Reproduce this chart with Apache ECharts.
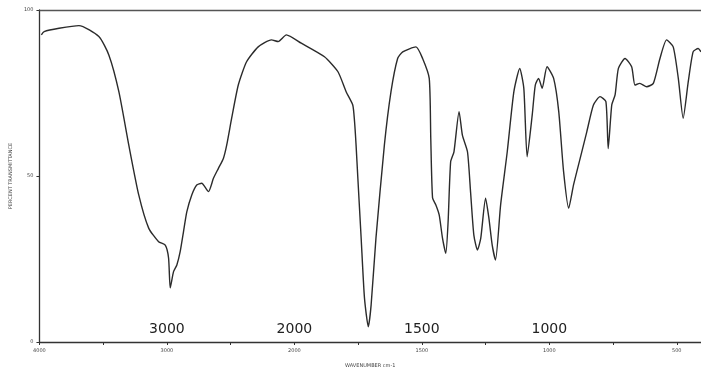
<!DOCTYPE html>
<html>
<head>
<meta charset="utf-8">
<script src="https://cdn.jsdelivr.net/npm/echarts@6/dist/echarts.min.js"></script>
<style>
  html, body { margin: 0; padding: 0; background: #fff; }
  #chart { width: 701px; height: 373px; }
</style>
</head>
<body>
<div id="chart"></div>
<script>
'use strict';
// IR spectrum, wavenumber (cm-1) vs transmittance (%)
const wavenumbers = [3985, 3963, 3846, 3690, 3534, 3455, 3377, 3299, 3221, 3143, 3065, 3013, 2987, 2974, 2948, 2922, 2896, 2870, 2844, 2805, 2766, 2727, 2674, 2635, 2596, 2557, 2531, 2492, 2440, 2375, 2284, 2180, 2127, 2063, 1973, 1882, 1829, 1797, 1771, 1764, 1758, 1751, 1738, 1725, 1710, 1699, 1680, 1647, 1621, 1595, 1575, 1523, 1497, 1471, 1465, 1458, 1445, 1432, 1419, 1406, 1397, 1387, 1374, 1354, 1341, 1321, 1309, 1296, 1282, 1269, 1250, 1237, 1224, 1211, 1191, 1165, 1139, 1116, 1100, 1087, 1067, 1055, 1042, 1028, 1009, 983, 963, 944, 924, 905, 879, 853, 827, 801, 778, 769, 755, 742, 729, 703, 677, 664, 645, 618, 592, 566, 540, 514, 494, 475, 455, 436, 416, 405];
const transmittance = [92.5, 93.5, 94.5, 95.3, 92.0, 86.4, 75.4, 59.3, 44.3, 34.3, 30.2, 29.2, 25.3, 16.3, 21.2, 23.2, 27.2, 33.2, 39.2, 44.3, 47.3, 47.8, 45.3, 49.3, 52.3, 55.3, 59.3, 67.4, 77.4, 84.4, 88.9, 91.0, 90.5, 92.5, 90.0, 85.9, 81.4, 75.4, 71.4, 66.4, 59.3, 49.3, 31.2, 13.2, 4.6, 11.1, 31.3, 59.3, 75.4, 85.4, 87.4, 88.9, 85.4, 79.4, 61.4, 43.4, 41.3, 38.3, 31.3, 26.7, 36.2, 54.3, 57.3, 69.4, 62.3, 57.3, 45.3, 32.2, 27.7, 31.2, 43.3, 37.3, 29.2, 24.7, 41.3, 57.3, 75.4, 82.4, 76.4, 55.8, 68.4, 77.4, 79.4, 76.4, 82.9, 79.4, 69.4, 51.3, 40.3, 47.3, 55.3, 63.3, 71.4, 73.9, 72.4, 58.3, 71.4, 74.4, 82.4, 85.4, 82.9, 77.4, 77.9, 76.9, 77.9, 85.4, 91.0, 88.9, 79.4, 67.4, 78.4, 87.4, 88.4, 87.4];

const smallTicks = [4000, 3000, 2000, 1500, 1000, 500];
const minorTicks = [4000, 3500, 3000, 2500, 2000, 1750, 1500, 1250, 1000, 750, 500];
const bigLabels = [3000, 2000, 1500, 1000];
const yTicks = [0, 50, 100];
const wnMin = 405, wnMax = 4000;

// the chart paper doubles its scale below 2000 cm-1
function toAxis(w) {
    return w >= 2000 ? w : 2000 - 2 * (2000 - w);
}
function fromAxis(u) {
    return u >= 2000 ? u : 2000 - (2000 - u) / 2;
}

let seriesData = wavenumbers.map(function (w, i) {
    return [toAxis(w), transmittance[i]];
});

let axisBase = {
    type: 'value',
    inverse: true,
    min: toAxis(wnMin),
    max: toAxis(wnMax),
    splitLine: {show: false}
};

let myChart = echarts.init(document.getElementById('chart'));
let option = {
    animation: false,
    backgroundColor: '#ffffff',
    grid: {left: 37, right: 0, top: 10, bottom: 31, containLabel: false},
    xAxis: [
        Object.assign({}, axisBase, {
            position: 'bottom',
            name: 'WAVENUMBER cm-1',
            nameLocation: 'middle',
            nameGap: 21,
            nameTextStyle: {fontSize: 5, color: '#444', fontFamily: 'DejaVu Sans'},
            axisLine: {show: true, onZero: false, lineStyle: {color: '#333', width: 1.3}},
            axisTick: {
                show: true, length: 3, inside: false,
                customValues: minorTicks.map(toAxis),
                lineStyle: {color: '#333'}
            },
            axisLabel: {
                show: true, fontSize: 5, color: '#444', margin: 6,
                fontFamily: 'DejaVu Sans',
                customValues: smallTicks.map(toAxis),
                formatter: function (v) { return String(Math.round(fromAxis(v))); }
            }
        }),
        Object.assign({}, axisBase, {
            position: 'bottom',
            axisLine: {show: false},
            axisTick: {show: false},
            axisLabel: {
                show: true, inside: true, margin: 6,
                fontSize: 14, color: '#222', fontFamily: 'DejaVu Sans',
                customValues: bigLabels.map(toAxis),
                formatter: function (v) { return String(Math.round(fromAxis(v))); }
            }
        }),
        Object.assign({}, axisBase, {
            position: 'top',
            axisLine: {show: true, onZero: false, lineStyle: {color: '#555', width: 1.3}},
            axisTick: {show: false},
            axisLabel: {show: false}
        })
    ],
    yAxis: [{
        type: 'value',
        min: 0,
        max: 100,
        interval: 50,
        name: 'PERCENT TRANSMITTANCE',
        nameLocation: 'middle',
        nameGap: 25,
        nameRotate: 90,
        nameTextStyle: {fontSize: 5, color: '#444', fontFamily: 'DejaVu Sans'},
        splitLine: {show: false},
        axisLine: {show: true, onZero: false, lineStyle: {color: '#333', width: 1.3}},
        axisTick: {show: true, length: 3, customValues: yTicks, lineStyle: {color: '#333'}},
        axisLabel: {fontSize: 5, color: '#444', margin: 6, fontFamily: 'DejaVu Sans', customValues: yTicks}
    }],
    series: [{
        type: 'line',
        xAxisIndex: 0,
        data: seriesData,
        showSymbol: false,
        smooth: 0.2,
        lineStyle: {color: '#2b2b2b', width: 1.4}
    }]
};
myChart.setOption(option);
</script>
</body>
</html>
